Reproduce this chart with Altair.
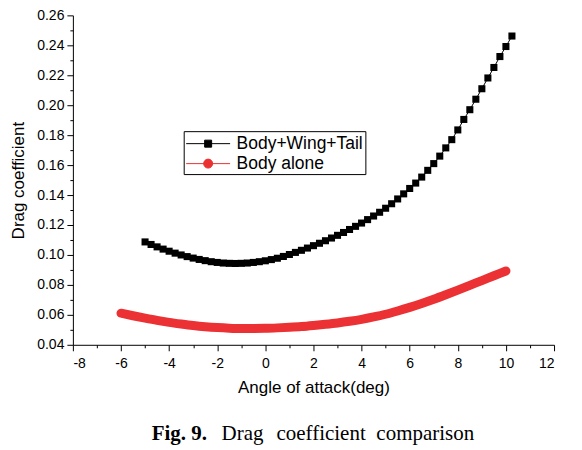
import altair as alt
import pandas as pd

# ---- data ----
series_names = ["Body+Wing+Tail", "Body alone"]

bwt_aoa = [-5.00, -4.75, -4.50, -4.25, -4.00, -3.75, -3.50, -3.25, -3.00, -2.75,
           -2.50, -2.25, -2.00, -1.75, -1.50, -1.25, -1.00, -0.75, -0.50, -0.25,
           0.00, 0.25, 0.50, 0.75, 1.00, 1.25, 1.50, 1.75, 2.00, 2.25,
           2.50, 2.75, 3.00, 3.25, 3.50, 3.75, 4.00, 4.25, 4.50, 4.75,
           5.00, 5.25, 5.50, 5.75, 6.00, 6.25, 6.50, 6.75, 7.00, 7.25,
           7.50, 7.75, 8.00, 8.25, 8.50, 8.75, 9.00, 9.25, 9.50, 9.75,
           10.00, 10.25]
bwt_cd = [0.1087, 0.1070, 0.1054, 0.1039, 0.1025, 0.1012, 0.1000, 0.0989, 0.0979, 0.0970,
          0.0962, 0.0955, 0.0950, 0.0946, 0.0944, 0.0943, 0.0944, 0.0946, 0.0950, 0.0955,
          0.0961, 0.0969, 0.0978, 0.0990, 0.1003, 0.1017, 0.1031, 0.1046, 0.1062, 0.1078,
          0.1095, 0.1113, 0.1131, 0.1150, 0.1170, 0.1191, 0.1213, 0.1236, 0.1260, 0.1285,
          0.1312, 0.1342, 0.1374, 0.1408, 0.1444, 0.1480, 0.1520, 0.1565, 0.1610, 0.1660,
          0.1715, 0.1770, 0.1835, 0.1905, 0.1970, 0.2040, 0.2110, 0.2182, 0.2252, 0.2325,
          0.2392, 0.2462]

body_aoa = [-6.0, -5.5, -5.0, -4.5, -4.0, -3.5, -3.0, -2.5, -2.0, -1.5,
            -1.0, -0.5, 0.0, 0.5, 1.0, 1.5, 2.0, 2.5, 3.0, 3.5,
            4.0, 4.5, 5.0, 5.5, 6.0, 6.5, 7.0, 7.5, 8.0, 8.5,
            9.0, 9.5, 10.0]
body_cd = [0.0611, 0.0594, 0.0578, 0.0563, 0.0550, 0.0539, 0.0529, 0.0521, 0.0515, 0.0511,
           0.0509, 0.0509, 0.0510, 0.0513, 0.0517, 0.0522, 0.0529, 0.0537, 0.0546, 0.0557,
           0.0570, 0.0586, 0.0604, 0.0626, 0.0650, 0.0676, 0.0704, 0.0734, 0.0765, 0.0797,
           0.0829, 0.0861, 0.0893]

x_ticks = [-8, -7, -6, -5, -4, -3, -2, -1, 0, 1, 2, 3, 4, 5, 6, 7, 8, 9, 10, 11, 12]
y_ticks = [0.04, 0.05, 0.06, 0.07, 0.08, 0.09, 0.10, 0.11, 0.12, 0.13, 0.14, 0.15,
           0.16, 0.17, 0.18, 0.19, 0.20, 0.21, 0.22, 0.23, 0.24, 0.25, 0.26]

caption_words = ["Fig. 9.", "Drag", "coefficient", "comparison"]

# ---- styling ----
BLACK = "#000000"
RED = "#eb3133"
sq_path = "M-2.2,0H2.2M-0.35,-0.35H0.35V0.35H-0.35Z"
ci_path = "M-2.2,0H2.2M0.45,0A0.45,0.45,0,1,1,-0.45,0A0.45,0.45,0,1,1,0.45,0Z"
caption_x = [79, 149, 204, 304]
caption_weight = ["bold", "normal", "normal", "normal"]

bwt_df = pd.DataFrame({"aoa": bwt_aoa, "cd": bwt_cd, "series": series_names[0]})
body_df = pd.DataFrame({"aoa": body_aoa, "cd": body_cd, "series": series_names[1]})
legend_df = pd.DataFrame({"series": series_names})

x_enc = alt.X("aoa:Q",
              scale=alt.Scale(domain=[-8, 12], nice=False, zero=False),
              axis=alt.Axis(values=x_ticks,
                            title="Angle of attack(deg)",
                            labelExpr="datum.value % 2 === 0 ? toString(datum.value) : ''",
                            tickSize={"condition": {"test": "datum.value % 2 !== 0", "value": 3}, "value": 6},
                            labelPadding=6, titlePadding=9, grid=False))
y_enc = alt.Y("cd:Q",
              scale=alt.Scale(domain=[0.04, 0.26], nice=False, zero=False),
              axis=alt.Axis(values=y_ticks,
                            title="Drag coefficient",
                            labelExpr="round(datum.value*100) % 2 === 0 ? format(datum.value, '.2f') : ''",
                            tickSize={"condition": {"test": "round(datum.value*100) % 2 !== 0", "value": 3}, "value": 6},
                            labelPadding=3, titlePadding=9, grid=False))

red_line = alt.Chart(body_df).mark_line(
    color=RED, strokeWidth=9, strokeCap="round", interpolate="monotone"
).encode(x=x_enc, y=y_enc)

black_line = alt.Chart(bwt_df).mark_line(color=BLACK, strokeWidth=1).encode(x=x_enc, y=y_enc)
black_pts = alt.Chart(bwt_df).mark_square(color=BLACK, size=50, opacity=1).encode(x=x_enc, y=y_enc)

legend_layer = alt.Chart(legend_df).mark_point(opacity=0).encode(
    fill=alt.Fill("series:N", scale=alt.Scale(domain=series_names, range=[BLACK, RED]),
                  legend=alt.Legend(title=None)),
    stroke=alt.Stroke("series:N", scale=alt.Scale(domain=series_names, range=[BLACK, RED]),
                      legend=alt.Legend(title=None)),
    shape=alt.Shape("series:N", scale=alt.Scale(domain=series_names, range=[sq_path, ci_path]),
                    legend=alt.Legend(title=None)),
)

caption_layers = []
for word, xpos, weight in zip(caption_words, caption_x, caption_weight):
    caption_layers.append(
        alt.Chart(pd.DataFrame({"t": [word]})).mark_text(
            font="Liberation Serif", fontSize=21, fontWeight=weight, align="left",
            baseline="alphabetic", color=BLACK
        ).encode(text="t:N", x=alt.value(xpos), y=alt.value(425))
    )

chart = alt.layer(red_line, black_line, black_pts, legend_layer, *caption_layers).properties(
    width=482, height=330,
    autosize=alt.AutoSizeParams(type="none"),
    padding={"left": 65, "top": 7, "right": 20, "bottom": 100},
).configure_view(stroke=None).configure_axis(
    domainColor=BLACK, tickColor=BLACK, labelColor=BLACK, titleColor=BLACK,
    labelFont="Liberation Sans", titleFont="Liberation Sans",
    labelFontSize=14, titleFontSize=17, titleFontWeight="normal", tickWidth=1, domainWidth=1,
).configure_legend(
    orient="none", legendX=111, legendY=116,
    strokeColor=BLACK, fillColor="white", padding=2,
    labelFont="Liberation Sans", labelFontSize=17.5, labelColor=BLACK,
    symbolSize=400, symbolStrokeWidth=1, symbolOpacity=1,
    labelOffset=18, rowPadding=1, symbolOffset=12,
)

chart.save("out.html", embed_options={"renderer": "svg", "actions": False})
